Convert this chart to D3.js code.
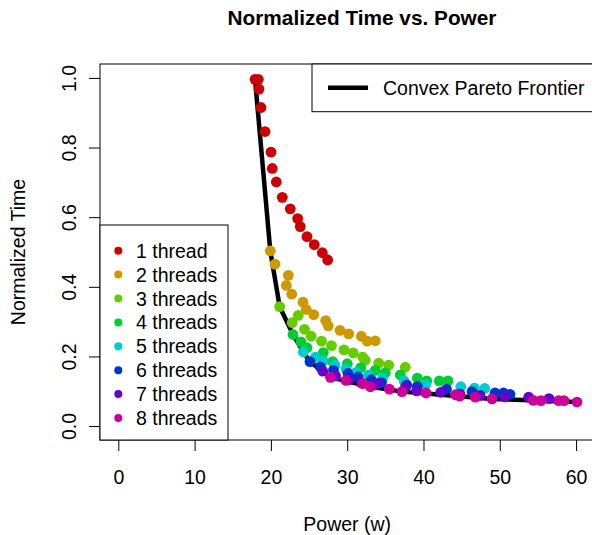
<!DOCTYPE html>
<html>
<head>
<meta charset="utf-8">
<script src="https://cdn.jsdelivr.net/npm/d3@7"></script>
<style>
body { margin: 0; background: #fff; }
svg text { font-family: "Liberation Sans", Arial, Helvetica, sans-serif; fill: #000; }
</style>
</head>
<body>
<div id="chart"></div>
<script>
// [power (w), normalized time], one array per thread count
const thread1 = [[17.92,0.996],[18.35,0.996],[18.44,0.968],[18.70,0.915],[19.23,0.846],[20.01,0.787],
    [20.18,0.740],[20.71,0.701],[21.49,0.657],[22.54,0.624],[23.51,0.596],[23.85,0.573],
    [24.73,0.544],[25.69,0.521],[26.74,0.498],[27.44,0.477]];
const thread2 = [[19.92,0.503],[20.54,0.465],[22.28,0.433],[22.02,0.404],[22.73,0.379],[24.21,0.356],
    [24.64,0.335],[25.61,0.320],[27.18,0.303],[27.52,0.288],[29.06,0.275],[30.20,0.265],
    [31.85,0.258],[32.63,0.244],[33.68,0.245]];
const thread3 = [[21.15,0.343],[23.59,0.318],[22.79,0.297],[24.40,0.278],[25.28,0.258],[26.63,0.244],
    [27.94,0.231],[29.58,0.219],[30.80,0.210],[32.03,0.198],[32.37,0.189],[34.13,0.181],
    [35.44,0.175],[37.61,0.169]];
const thread4 = [[22.90,0.263],[23.94,0.242],[24.73,0.225],[26.87,0.211],[28.10,0.185],[30.01,0.179],
    [31.77,0.168],[33.68,0.160],[34.99,0.153],[36.96,0.147],[39.19,0.138],[40.42,0.130],
    [42.07,0.130],[43.21,0.130]];
const thread5 = [[24.25,0.213],[25.85,0.198],[26.87,0.187],[28.40,0.175],[29.84,0.164],[31.15,0.154],
    [32.79,0.147],[34.63,0.137],[37.45,0.130],[40.33,0.120],[44.89,0.113],[46.68,0.109],
    [48.02,0.108]];
const thread6 = [[25.12,0.185],[26.47,0.170],[28.20,0.160],[30.10,0.151],[31.42,0.141],[33.16,0.133],
    [34.50,0.125],[37.80,0.118],[39.19,0.114],[43.01,0.106],[46.36,0.099],[49.37,0.095],
    [50.48,0.095],[51.34,0.091]];
const thread7 = [[26.79,0.158],[28.47,0.144],[30.20,0.133],[31.85,0.124],[33.94,0.122],[37.64,0.112],
    [39.11,0.101],[42.25,0.097],[44.78,0.092],[47.41,0.088],[50.64,0.084],[53.79,0.083],
    [56.45,0.079]];
const thread8 = [[27.81,0.140],[29.84,0.131],[32.07,0.122],[33.05,0.113],[35.52,0.106],[37.18,0.099],
    [40.33,0.095],[44.19,0.090],[44.74,0.086],[46.79,0.083],[48.98,0.078],[54.39,0.074],
    [55.40,0.073],[57.72,0.073],[58.41,0.073],[60.12,0.069]];

const seriesLabels = ["1 thread", "2 threads", "3 threads", "4 threads",
    "5 threads", "6 threads", "7 threads", "8 threads"];
const seriesColours = ["#CC0000", "#CC9900", "#66CC00", "#00CC33",
    "#00CCCC", "#0033CC", "#6600CC", "#CC0099"];
const xTicks = [0, 10, 20, 30, 40, 50, 60];
const yTicks = [0, 0.2, 0.4, 0.6, 0.8, 1.0];

const allSeries = [thread1, thread2, thread3, thread4, thread5, thread6, thread7, thread8];

// lower convex hull of every point, from the lowest power to the lowest time
function convexFrontier(points) {
    const sorted = points.slice().sort((a, b) => a[0] - b[0] || a[1] - b[1]);
    const hull = [];
    for (const p of sorted) {
        while (hull.length >= 2) {
            const a = hull[hull.length - 2], b = hull[hull.length - 1];
            const cross = (b[0] - a[0]) * (p[1] - a[1]) - (b[1] - a[1]) * (p[0] - a[0]);
            if (cross <= 0) hull.pop(); else break;
        }
        hull.push(p);
    }
    return hull.slice(0, d3.minIndex(hull, d => d[1]) + 1);
}

const width = 592, height = 535;
const plot = {left: 100, right: 594.4, top: 64, bottom: 440};
const fontSize = 19.5;

const svg = d3.select("#chart").append("svg")
    .attr("width", width)
    .attr("height", height);

const x = d3.scaleLinear().domain([-2.4, 62.4]).range([plot.left, plot.right]);
const y = d3.scaleLinear().domain([-0.04, 1.04]).range([plot.bottom, plot.top]);

// title and axis titles
svg.append("text")
    .attr("x", 362)
    .attr("y", 25)
    .attr("text-anchor", "middle")
    .style("font-size", "20.8px")
    .style("font-weight", "bold")
    .text("Normalized Time vs. Power");

svg.append("text")
    .attr("x", (plot.left + plot.right) / 2)
    .attr("y", 531)
    .attr("text-anchor", "middle")
    .style("font-size", fontSize + "px")
    .text("Power (w)");

svg.append("text")
    .attr("transform", `translate(25, ${(plot.top + plot.bottom) / 2}) rotate(-90)`)
    .attr("text-anchor", "middle")
    .style("font-size", fontSize + "px")
    .text("Normalized Time");

// axes
const xAxis = svg.append("g")
    .attr("transform", `translate(0, ${plot.bottom})`)
    .call(d3.axisBottom(x).tickValues(xTicks).tickSize(11).tickPadding(4).tickFormat(d3.format("d")));
xAxis.select(".domain").remove();
xAxis.selectAll("text")
    .attr("y", 43.5).attr("dy", null)
    .style("font-size", fontSize + "px")
    .style("font-family", null);

const yAxis = svg.append("g")
    .attr("transform", `translate(${plot.left}, 0)`)
    .call(d3.axisLeft(y).tickValues(yTicks).tickSize(11).tickFormat(d3.format(".1f")));
yAxis.select(".domain").remove();
yAxis.selectAll("text")
    .attr("x", null).attr("dy", null)
    .attr("text-anchor", "middle")
    .attr("transform", "translate(-24, 0) rotate(-90)")
    .style("font-size", fontSize + "px")
    .style("font-family", null);
svg.selectAll(".tick line").attr("stroke", "#000");

svg.append("rect")
    .attr("x", plot.left).attr("y", plot.top)
    .attr("width", plot.right - plot.left)
    .attr("height", plot.bottom - plot.top)
    .attr("fill", "none")
    .attr("stroke", "#000");

// frontier under the points
const frontier = convexFrontier(allSeries.flat());
svg.append("path")
    .datum(frontier)
    .attr("fill", "none")
    .attr("stroke", "#000")
    .attr("stroke-width", 4.5)
    .attr("stroke-linejoin", "round")
    .attr("d", d3.line().x(d => x(d[0])).y(d => y(d[1])));

svg.append("g").selectAll("g")
    .data(allSeries)
    .join("g")
    .attr("fill", (d, i) => seriesColours[i])
    .selectAll("circle")
    .data(d => d)
    .join("circle")
    .attr("cx", d => x(d[0]))
    .attr("cy", d => y(d[1]))
    .attr("r", 5.4);

// legend for the threads, bottom left
const legend1 = svg.append("g");
legend1.append("rect")
    .attr("x", plot.left).attr("y", 225)
    .attr("width", 128).attr("height", plot.bottom - 225)
    .attr("fill", "#fff").attr("stroke", "#000");
const items = legend1.selectAll(".legend-item")
    .data(seriesLabels)
    .join("g")
    .attr("class", "legend-item")
    .attr("transform", (d, i) => `translate(0, ${250.7 + i * 23.9})`);
items.append("circle")
    .attr("cx", 118.3)
    .attr("r", 4)
    .attr("fill", (d, i) => seriesColours[i]);
items.append("text")
    .attr("x", 136)
    .attr("dy", "0.36em")
    .style("font-size", fontSize + "px")
    .text(d => d);

// legend for the frontier, top right
const legend2 = svg.append("g");
legend2.append("rect")
    .attr("x", 312).attr("y", plot.top)
    .attr("width", plot.right - 312).attr("height", 47.7)
    .attr("fill", "#fff").attr("stroke", "#000");
legend2.append("line")
    .attr("x1", 328).attr("x2", 368)
    .attr("y1", 87.7).attr("y2", 87.7)
    .attr("stroke", "#000").attr("stroke-width", 4.5);
legend2.append("text")
    .attr("x", 383).attr("y", 87.7)
    .attr("dy", "0.36em")
    .style("font-size", fontSize + "px")
    .text("Convex Pareto Frontier");
</script>
</body>
</html>
